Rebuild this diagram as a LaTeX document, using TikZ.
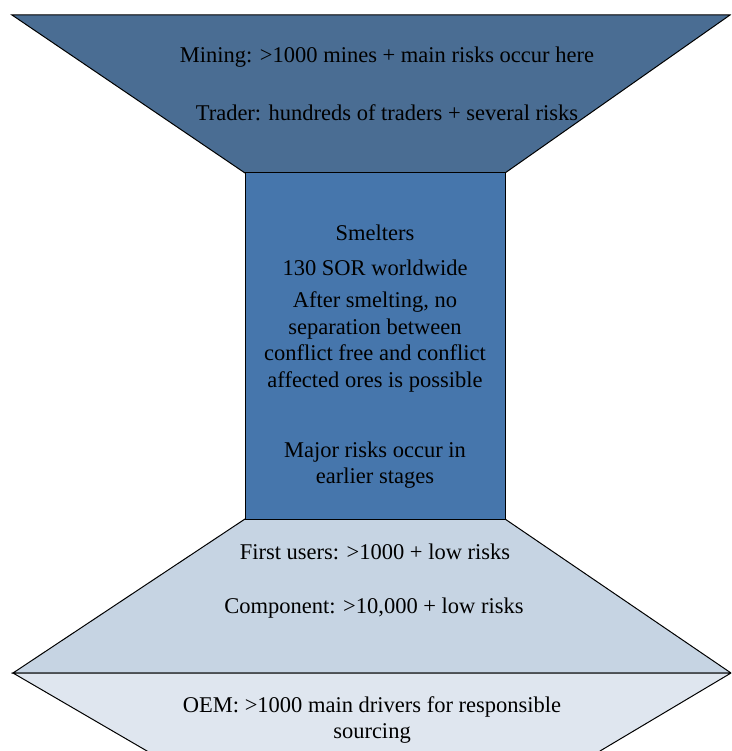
\documentclass[tikz,border=0pt]{standalone}
\usepackage{fontspec}
\setmainfont{Liberation Serif}
\usepackage{tikz}
\usepackage{xcolor}
\definecolor{mine-blue}{HTML}{4A6D93}
\definecolor{smelter-blue}{HTML}{4676AC}
\definecolor{user-blue}{HTML}{C6D4E3}
\definecolor{oem-blue}{HTML}{DFE6EF}
\tikzset{
    stage-shape/.style = {draw=black, line width=1pt, line join=miter},
    stage-text/.style = {align=center, inner sep=0pt, text=black, font=\fontsize{22.5}{26.5}\selectfont},
}

\begin{document}
\begin{tikzpicture}[x=1pt, y=-1pt]
\useasboundingbox (0,0) rectangle (731,751);
\clip (0,0) rectangle (731,751);
% shapes of the supply chain
\draw[stage-shape, fill=mine-blue] (12,15) -- (730,15) -- (505,173) -- (245,173) -- cycle;
\draw[stage-shape, fill=user-blue] (245,519) -- (505,519) -- (731,673) -- (13,673) -- cycle;
\draw[stage-shape, fill=oem-blue] (13,673) -- (731,673) -- (600,751) -- (600,790) -- (147,790) -- (147,751) -- cycle;
\draw[stage-shape, fill=smelter-blue] (245,173) rectangle (505,519);
% texts
\node[stage-text] (mining) at (387,57) {Mining: >1000 mines + main risks occur here};
\node[stage-text] (trader) at (387,113) {Trader: hundreds of traders + several risks};
\node[stage-text] (smelters) at (375,233) {Smelters};
\node[stage-text] (sor) at (375,268) {130 SOR worldwide};
\node[stage-text] (separation) at (375,342) {After smelting, no\\separation between\\conflict free and conflict\\affected ores is possible};
\node[stage-text] (earlier) at (375,465) {Major risks occur in\\earlier stages};
\node[stage-text] (users) at (375,552) {First users: >1000 + low risks};
\node[stage-text] (component) at (374,608) {Component: >10,000 + low risks};
\node[stage-text] (oem) at (372,720) {OEM: >1000 main drivers for responsible\\sourcing};
\end{tikzpicture}
\end{document}
